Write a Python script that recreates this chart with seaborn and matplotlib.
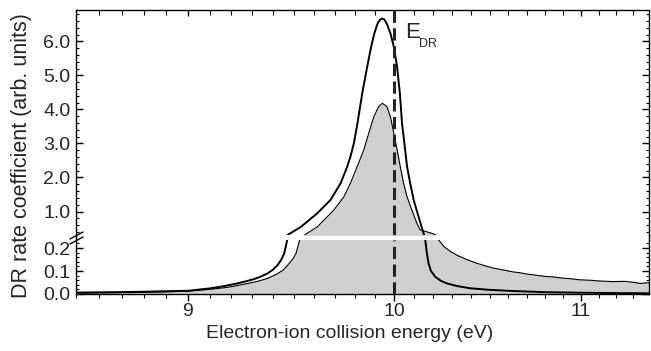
import numpy as np
import pandas as pd
import matplotlib
matplotlib.use("Agg")
import matplotlib.pyplot as plt
import seaborn as sns
from matplotlib.ticker import FixedLocator, NullFormatter, FixedFormatter
from matplotlib.lines import Line2D

# ---------------- data ----------------
theory_energy = [8.50, 8.75, 9.00, 9.106, 9.16, 9.215, 9.27, 9.31, 9.345, 9.374,
                 9.40, 9.422, 9.44, 9.454, 9.467,
                 9.47, 9.535, 9.615, 9.68, 9.73, 9.763, 9.779, 9.796, 9.813, 9.838,
                 9.863, 9.883, 9.899, 9.916, 9.929, 9.938, 9.95, 9.963, 9.981, 9.998,
                 10.015, 10.029, 10.04, 10.066, 10.082, 10.10, 10.125, 10.151,
                 10.16, 10.168, 10.177, 10.19, 10.212, 10.24, 10.273, 10.33, 10.396,
                 10.50, 10.627, 10.80, 10.99, 11.20, 11.40]
theory_rate = [0.006, 0.009, 0.014, 0.025, 0.033, 0.043, 0.055, 0.065, 0.077, 0.090,
               0.106, 0.126, 0.150, 0.177, 0.230,
               0.31, 0.55, 0.95, 1.34, 1.83, 2.32, 2.61, 3.00, 3.55, 4.47,
               5.25, 5.84, 6.23, 6.53, 6.64, 6.67, 6.64, 6.51, 6.23, 5.84,
               5.25, 4.47, 3.60, 2.32, 1.83, 1.34, 0.85, 0.36,
               0.235, 0.180, 0.133, 0.100, 0.075, 0.058, 0.046, 0.034, 0.025,
               0.018, 0.013, 0.008, 0.0057, 0.004, 0.003]

exp_energy = [8.50, 8.80, 9.00, 9.10, 9.184, 9.23, 9.28, 9.33, 9.374, 9.42,
              9.45, 9.471, 9.495, 9.511, 9.527,
              9.552, 9.615, 9.696, 9.746, 9.779, 9.813, 9.846, 9.871, 9.896, 9.921,
              9.94, 9.963, 9.981, 9.998, 10.015, 10.031, 10.048, 10.066, 10.091,
              10.117, 10.134, 10.17, 10.20, 10.215,
              10.229, 10.26, 10.29, 10.33, 10.378, 10.43, 10.47, 10.519, 10.57,
              10.627, 10.66, 10.70, 10.75, 10.809, 10.85, 10.90, 10.95, 10.99,
              11.05, 11.10, 11.18, 11.25, 11.30, 11.34, 11.40]
exp_rate = [0.004, 0.007, 0.012, 0.020, 0.029, 0.037, 0.046, 0.056, 0.068, 0.088,
            0.105, 0.126, 0.152, 0.177, 0.230,
            0.31, 0.55, 1.04, 1.43, 1.83, 2.32, 2.81, 3.30, 3.78, 4.08,
            4.18, 4.08, 3.78, 3.30, 2.81, 2.32, 1.83, 1.43, 1.04,
            0.65, 0.46, 0.40, 0.35, 0.31,
            0.235, 0.205, 0.186, 0.167, 0.150, 0.134, 0.124, 0.113, 0.105,
            0.096, 0.093, 0.087, 0.082, 0.076, 0.074, 0.069, 0.066, 0.062,
            0.060, 0.057, 0.054, 0.055, 0.051, 0.046, 0.050]

x_major = [9, 10, 11]
x_labels = ["9", "10", "11"]
upper_ticks = [1, 2, 3, 4, 5, 6]
upper_labels = ["1.0", "2.0", "3.0", "4.0", "5.0", "6.0"]
lower_ticks = [0.0, 0.1, 0.2]
lower_labels = ["0.0", "0.1", "0.2"]
e_dr = 10.0

x_range = (8.5, 11.39)
upper_range = (0.31, 6.92)
lower_range = (0.0, 0.235)

# ---------------- style ----------------
sns.set_theme(style="ticks")
plt.rcParams["font.family"] = ["Liberation Sans", "DejaVu Sans"]
plt.rcParams["axes.linewidth"] = 1.0

W, H = 651, 351
fig = plt.figure(figsize=(W / 100, H / 100), dpi=100)


def rect(l, t, r, b):
    return [l / W, 1 - b / H, (r - l) / W, (b - t) / H]


ax_up = fig.add_axes(rect(76, 10, 649, 235))
ax_lo = fig.add_axes(rect(76, 240, 649, 294))

df_t = pd.DataFrame({"E": theory_energy, "rate": theory_rate})
df_e = pd.DataFrame({"E": exp_energy, "rate": exp_rate})

fill_col = "#cfd0d2"
for ax in (ax_up, ax_lo):
    ax.set_xscale("log")
    ax.fill_between(df_e["E"], 0, df_e["rate"], color=fill_col, lw=0, zorder=1)
    sns.lineplot(data=df_e, x="E", y="rate", ax=ax, color="black", lw=0.8,
                 sort=False, estimator=None, zorder=2)
    sns.lineplot(data=df_t, x="E", y="rate", ax=ax, color="black", lw=1.4,
                 sort=False, estimator=None, zorder=3)
    ax.axvline(e_dr, color="#222222", lw=2.2, dashes=(4.0, 1.8), zorder=4)
    ax.set_xlim(*x_range)
    ax.set_xlabel("")
    ax.set_ylabel("")
    ax.xaxis.set_major_locator(FixedLocator(x_major))
    ax.xaxis.set_minor_locator(FixedLocator(np.round(np.arange(8.5, 11.41, 0.1), 2)))
    ax.xaxis.set_minor_formatter(NullFormatter())
    for s in ax.spines.values():
        s.set_color("black")
        s.set_linewidth(1.0)

ax_up.set_ylim(*upper_range)
ax_lo.set_ylim(*lower_range)

ax_up.yaxis.set_major_locator(FixedLocator(upper_ticks))
ax_up.yaxis.set_major_formatter(FixedFormatter(upper_labels))
ax_up.yaxis.set_minor_locator(FixedLocator(np.round(np.arange(0.4, 6.9, 0.2), 2)))
ax_lo.yaxis.set_major_locator(FixedLocator(lower_ticks))
ax_lo.yaxis.set_major_formatter(FixedFormatter(lower_labels))
ax_lo.yaxis.set_minor_locator(FixedLocator(np.round(np.arange(0.0, 0.235, 0.02), 2)))
ax_lo.xaxis.set_major_formatter(FixedFormatter(x_labels))

ax_up.spines["bottom"].set_visible(False)
ax_lo.spines["top"].set_visible(False)

fs_tick = 14
ax_up.tick_params(axis="x", which="both", bottom=False, top=True, labelbottom=False,
                  direction="in", color="black")
ax_up.tick_params(axis="x", which="major", length=4.5, width=1.0)
ax_up.tick_params(axis="x", which="minor", length=3.5, width=0.8)
ax_lo.tick_params(axis="x", which="both", bottom=True, top=False, direction="out",
                  labelsize=fs_tick, pad=1.5, color="black")
ax_lo.tick_params(axis="x", which="major", length=5, width=1.0)
ax_lo.tick_params(axis="x", which="minor", length=3, width=0.8)
for ax in (ax_up, ax_lo):
    ax.tick_params(axis="y", which="both", left=True, right=True, direction="in",
                   labelsize=fs_tick, pad=4, color="black")
    ax.tick_params(axis="y", which="major", length=5, width=1.0)
    ax.tick_params(axis="y", which="minor", length=2.5, width=0.8)

# bridge the side spines across the gap
for xp in (76, 649):
    fig.add_artist(Line2D([xp / W, xp / W], [1 - 240 / H, 1 - 235 / H],
                          color="black", lw=1.0))
# break marks on left spine
for yc in (235.5, 240.5):
    fig.add_artist(Line2D([70 / W, 83 / W], [1 - (yc + 3.5) / H, 1 - (yc - 3.5) / H],
                          color="black", lw=1.0))

fig.text(22 / W, 1 - 156 / H, "DR rate coefficient (arb. units)", rotation=90,
         ha="center", va="center", fontsize=15.5)
fig.text(350 / W, 1 - 333 / H, "Electron-ion collision energy (eV)",
         ha="center", va="center", fontsize=14)
fig.text(405 / W, 1 - 38 / H, "E", ha="left", va="baseline", fontsize=16)
fig.text(419 / W, 1 - 47 / H, "DR", ha="left", va="baseline", fontsize=9)

fig.savefig("out.png", dpi=100)
